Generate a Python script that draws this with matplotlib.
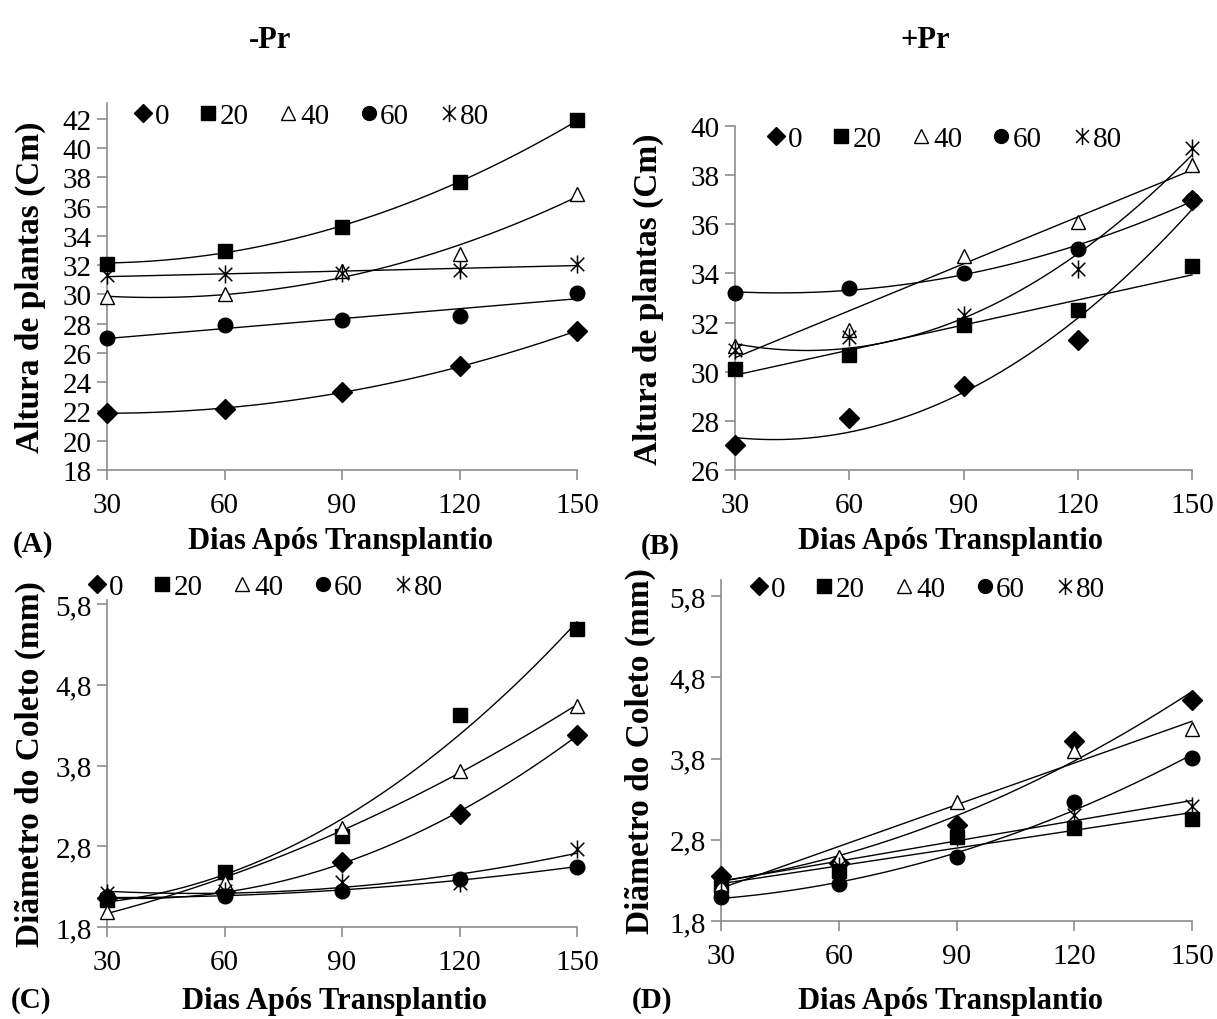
import numpy as np
import matplotlib.pyplot as plt
from matplotlib.lines import Line2D
from matplotlib.path import Path

plt.rcParams['font.family'] = ['Liberation Serif', 'DejaVu Serif']

dias = [30, 60, 90, 120, 150]
doses = ['0', '20', '40', '60', '80']

# (A) altura, -Pr
alt_sem_0 = [21.9, 22.2, 23.3, 25.1, 27.5]
alt_sem_20 = [32.1, 33.0, 34.6, 37.7, 41.9]
alt_sem_40 = [29.8, 30.0, 31.6, 32.8, 36.9]
alt_sem_60 = [27.0, 27.9, 28.25, 28.5, 30.1]
alt_sem_80 = [31.3, 31.4, 31.5, 31.7, 32.1]

# (B) altura, +Pr
alt_com_0 = [27.0, 28.1, 29.4, 31.3, 37.0]
alt_com_20 = [30.1, 30.7, 31.9, 32.5, 34.3]
alt_com_40 = [31.05, 31.7, 34.7, 36.1, 38.4]
alt_com_60 = [33.2, 33.4, 34.0, 35.0, 37.0]
alt_com_80 = [30.9, 31.4, 32.3, 34.2, 39.1]

# (C) diametro, -Pr
diam_sem_0 = [2.16, 2.23, 2.61, 3.20, 4.18]
diam_sem_20 = [2.13, 2.48, 2.93, 4.43, 5.49]
diam_sem_40 = [1.99, 2.36, 3.02, 3.73, 4.54]
diam_sem_60 = [2.17, 2.18, 2.25, 2.40, 2.54]
diam_sem_80 = [2.22, 2.24, 2.36, 2.34, 2.76]

# (D) diametro, +Pr
diam_com_0 = [2.36, 2.51, 2.98, 4.02, 4.52]
diam_com_20 = [2.23, 2.42, 2.83, 2.95, 3.06]
diam_com_40 = [2.25, 2.59, 3.26, 3.89, 4.17]
diam_com_60 = [2.10, 2.25, 2.59, 3.26, 3.81]
diam_com_80 = [2.29, 2.48, 2.83, 3.11, 3.22]

# grau do polinomio da linha de tendencia de cada serie
graus_a = [2, 2, 2, 1, 1]
graus_b = [2, 1, 1, 2, 2]
graus_c = [2, 2, 2, 2, 2]
graus_d = [2, 1, 1, 2, 1]

# asterisco estilo Excel: um x com barra vertical
asterisco = Path([(0, -1), (0, 1), (-0.75, -0.75), (0.75, 0.75), (-0.75, 0.75), (0.75, -0.75)],
                 [Path.MOVETO, Path.LINETO, Path.MOVETO, Path.LINETO, Path.MOVETO, Path.LINETO])

estilos = [
    dict(marker='D', ms=10, mfc='black', mec='black'),
    dict(marker='s', ms=10, mfc='black', mec='black'),
    dict(marker='^', ms=10, mfc='white', mec='black', mew=1.0),
    dict(marker='o', ms=10.5, mfc='black', mec='black'),
    dict(marker=asterisco, ms=13, mfc='black', mec='black', mew=1.1),
]

W, H = 1217, 1020
fig = plt.figure(figsize=(W / 100, H / 100), dpi=100)
cinza = '#8c8c8c'


def painel(x0, x1, ybot, ytop, ylim, yticks, ylabels, series, graus, leg_xy, ylab, ylab_x):
    ax = fig.add_axes([x0 / W, 1 - ybot / H, (x1 - x0) / W, (ybot - ytop) / H])
    xs = np.linspace(30, 150, 200)
    for vals, g, st in zip(series, graus, estilos):
        coef = np.polyfit(dias, vals, g)
        ax.plot(xs, np.polyval(coef, xs), color='black', lw=1.0, zorder=2, clip_on=False)
        ax.plot(dias, vals, ls='none', zorder=3, clip_on=False, **st)
    ax.set_xlim(30, 150)
    ax.set_ylim(*ylim)
    ax.set_xticks(dias)
    ax.set_yticks(yticks)
    ax.set_yticklabels(ylabels)
    for s in ['top', 'right']:
        ax.spines[s].set_visible(False)
    for s in ['left', 'bottom']:
        ax.spines[s].set_color(cinza)
        ax.spines[s].set_linewidth(1.2)
    ax.tick_params(direction='out', length=7, width=1.2, color=cinza, labelsize=21, pad=4)
    ax.tick_params(axis='x', pad=9)
    handles = [Line2D([], [], ls='none', **st) for st in estilos]
    ax.legend(handles, doses, ncol=5, loc='center left',
              bbox_to_anchor=(leg_xy[0] / W, 1 - leg_xy[1] / H), bbox_transform=fig.transFigure,
              frameon=False, handletextpad=0.1, columnspacing=1.05, handlelength=0.6,
              borderpad=0, borderaxespad=0, fontsize=21, markerscale=0.95)
    fig.text(ylab_x / W, 1 - (ybot + ytop) / 2 / H, ylab, rotation=90, ha='center', va='center',
             fontsize=24, fontweight='bold')
    return ax


painel(107, 577, 471, 103.9, (18, 43.1), np.arange(18, 43, 2), [str(v) for v in range(18, 43, 2)],
       [alt_sem_0, alt_sem_20, alt_sem_40, alt_sem_60, alt_sem_80], graus_a,
       (134, 117), 'Altura de plantas (Cm)', 30)
painel(735, 1192, 471, 127, (26, 40), np.arange(26, 41, 2), [str(v) for v in range(26, 41, 2)],
       [alt_com_0, alt_com_20, alt_com_40, alt_com_60, alt_com_80], graus_b,
       (767, 140), 'Altura de plantas (Cm)', 648)
ticks_d = [1.8, 2.8, 3.8, 4.8, 5.8]
labels_d = [f'{v:.1f}'.replace('.', ',') for v in ticks_d]
painel(107, 577, 928, 601, (1.8, 5.85), ticks_d, labels_d,
       [diam_sem_0, diam_sem_20, diam_sem_40, diam_sem_60, diam_sem_80], graus_c,
       (88, 588), 'Diãmetro do Coleto (mm)', 30)
painel(721, 1192, 922, 581, (1.8, 6.0), ticks_d, labels_d,
       [diam_com_0, diam_com_20, diam_com_40, diam_com_60, diam_com_80], graus_d,
       (750, 590), 'Diãmetro do Coleto (mm)', 640)

# titulos e rotulos
fig.text(270 / W, 1 - 40 / H, '-Pr', ha='center', va='center', fontsize=22, fontweight='bold')
fig.text(925 / W, 1 - 40 / H, '+Pr', ha='center', va='center', fontsize=22, fontweight='bold')
for x, y in [(340, 542), (950, 542), (335, 1002), (950, 1002)]:
    fig.text(x / W, 1 - y / H, 'Dias Após Transplantio', ha='center', va='center',
             fontsize=22, fontweight='bold')
for txt, x, y in [('(A)', 33, 545), ('(B)', 660, 547), ('(C)', 31, 1001), ('(D)', 652, 1001)]:
    fig.text(x / W, 1 - y / H, txt, ha='center', va='center', fontsize=21, fontweight='bold')

fig.savefig('out.png', dpi=100)
